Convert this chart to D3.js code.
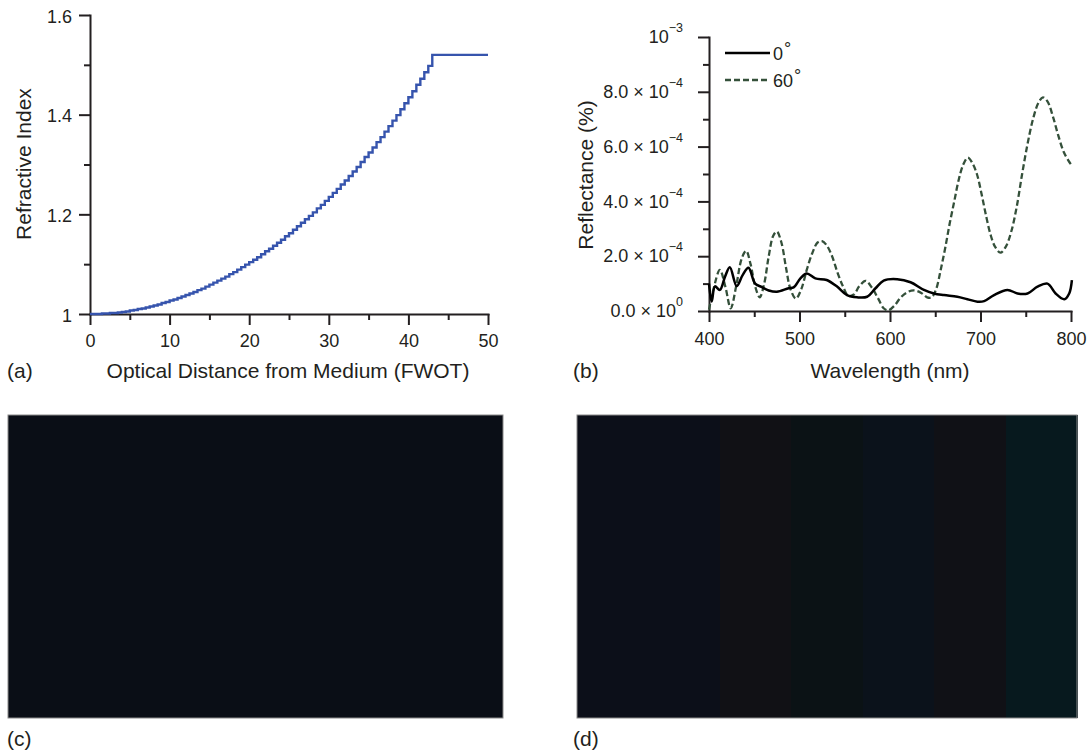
<!DOCTYPE html>
<html><head><meta charset="utf-8">
<script src="https://cdn.jsdelivr.net/npm/d3@7"></script>
<style>
body{margin:0;background:#fff;}
svg text{font-family:"Liberation Sans",Arial,Helvetica,sans-serif;fill:#231f20;}
</style></head><body>
<svg id="chart" width="1087" height="753"></svg>
<script>
// ---------- Panel (a): graded refractive index profile ----------
const layerDistance = [0,0.5,1,1.5,2,2.5,3,3.5,4,4.5,5,5.5,6,6.5,7,7.5,8,8.5,9,9.5,10,10.5,11,11.5,12,12.5,13,13.5,14,14.5,15,15.5,16,16.5,17,17.5,18,18.5,19,19.5,20,20.5,21,21.5,22,22.5,23,23.5,24,24.5,25,25.5,26,26.5,27,27.5,28,28.5,29,29.5,30,30.5,31,31.5,32,32.5,33,33.5,34,34.5,35,35.5,36,36.5,37,37.5,38,38.5,39,39.5,40,40.5,41,41.5,42,42.5,43,50];
const layerIndex = [1.000,1.000,1.000,1.001,1.001,1.002,1.002,1.003,1.004,1.005,1.007,1.008,1.010,1.011,1.013,1.015,1.017,1.019,1.022,1.024,1.027,1.029,1.032,1.035,1.038,1.041,1.044,1.048,1.051,1.055,1.059,1.063,1.067,1.071,1.075,1.080,1.084,1.089,1.094,1.099,1.104,1.109,1.114,1.120,1.126,1.131,1.137,1.143,1.149,1.156,1.162,1.169,1.176,1.183,1.190,1.197,1.204,1.212,1.219,1.227,1.235,1.243,1.251,1.260,1.268,1.277,1.286,1.295,1.305,1.315,1.324,1.334,1.345,1.355,1.366,1.377,1.388,1.399,1.411,1.423,1.435,1.447,1.460,1.472,1.485,1.498,1.520,1.520];
const aXMajor = [0,10,20,30,40,50];
const aXMinor = [5,15,25,35,45];
const aYMajor = [1,1.2,1.4,1.6];
const aYMinor = [1.1,1.3,1.5];

// ---------- Panel (b): reflectance spectra (values in units of 1e-4) ----------
const wl0 = [400,403,406.6,412,417.7,423,430.6,437,443.6,451,458,466,475,488,493.5,501,508,517.5,530,541.5,552.5,563.6,574.7,584,593,608,622.7,637.5,648.6,659.7,674.4,685.5,696.6,704,715,729.8,740.9,752,763,774,783,792.6,798,801];
const refl0 = [1.0,0.35,0.9,0.77,1.25,1.6,0.91,1.3,1.58,1.0,0.88,0.75,0.7,0.83,0.86,1.19,1.37,1.19,1.13,0.89,0.58,0.5,0.52,0.83,1.11,1.16,1.05,0.77,0.64,0.58,0.52,0.43,0.34,0.36,0.58,0.77,0.64,0.64,0.89,1.0,0.64,0.43,0.64,1.13];
const wl60 = [400,405,412,418,424,430,436,441,446,451,456,461,466,471,475,480,485,490,496,502,508,514,520,525,530,536,542,548,554,560,566,573,580,587,593,598,605,612,620,627,635,641,646,651,656,661,666,671,676,681,686,691,696,701,706,711,716,722,728,734,740,746,752,758,764,769,774,780,786,792,797,801];
const refl60 = [0.05,0.8,1.5,0.9,0.1,0.9,1.9,2.2,1.7,0.9,0.5,1.0,2.0,2.75,2.9,2.5,1.6,0.8,0.45,0.8,1.5,2.1,2.5,2.55,2.4,2.0,1.4,0.9,0.55,0.6,0.9,1.1,0.85,0.45,0.1,0.02,0.2,0.5,0.7,0.75,0.65,0.5,0.5,0.8,1.5,2.3,3.2,4.0,4.8,5.35,5.6,5.4,5.0,4.3,3.5,2.8,2.35,2.13,2.35,2.9,3.8,5.0,6.1,7.0,7.6,7.8,7.65,7.1,6.4,5.8,5.5,5.3];
const bXMajor = [400,500,600,700,800];
const bXMinor = [450,550,650,750];
const bYMajor = [0,2,4,6,8,10];
const bYMinor = [1,3,5,7,9];
const bYMantissa = ["0.0","2.0","4.0","6.0","8.0",null];
const bYExponent = ["0","\u22124","\u22124","\u22124","\u22124","\u22123"];
const legendLabels = ["0","60"];

// ---------- Panels (c), (d): colour swatches ----------
const swatchC = ["#0a0e16"];
const swatchD = ["#0c0f19","#0c0f19","#111115","#0b1215","#0b121b","#101116","#07191e"];

const panelLabels = ["(a)","(b)","(c)","(d)"];

const svg = d3.select("#chart");
const ink = "#231f20";

function styleAxis(g){
  g.selectAll("path.domain").attr("stroke", ink).attr("stroke-width", 2).attr("stroke-linecap","square");
  g.selectAll(".tick line").attr("stroke", ink).attr("stroke-width", 2);
  g.selectAll(".tick text").attr("font-size", 18).attr("fill", ink)
    .style("font-family", '"Liberation Sans",Arial,sans-serif');
}
function minorAxis(g){
  g.select("path.domain").remove();
  g.selectAll(".tick line").attr("stroke", ink).attr("stroke-width", 2);
}

// ===== Panel (a) =====
const xa = d3.scaleLinear().domain([0,50]).range([90,488]);
const ya = d3.scaleLinear().domain([1,1.6]).range([314,15]);

svg.append("g").attr("transform","translate(0,314)")
  .call(d3.axisBottom(xa).tickValues(aXMinor).tickSize(6).tickFormat("")).call(minorAxis);
svg.append("g").attr("transform","translate(90,0)")
  .call(d3.axisLeft(ya).tickValues(aYMinor).tickSize(6).tickFormat("")).call(minorAxis);
svg.append("g").attr("transform","translate(0,314)")
  .call(d3.axisBottom(xa).tickValues(aXMajor).tickSize(11).tickSizeOuter(0).tickPadding(9).tickFormat(d3.format("d")))
  .call(styleAxis);
svg.append("g").attr("transform","translate(90,0)")
  .call(d3.axisLeft(ya).tickValues(aYMajor).tickSize(11).tickSizeOuter(0).tickPadding(7)
    .tickFormat(d => d === 1 ? "1" : d3.format(".1f")(d)))
  .call(styleAxis)
  .call(g => g.selectAll(".tick text").attr("dy","0.4em"));

const lineA = d3.line().x((d,i)=>xa(layerDistance[i])).y(d=>ya(d)).curve(d3.curveStepAfter);
svg.append("path").datum(layerIndex).attr("d", lineA)
  .attr("fill","none").attr("stroke","#3654ad").attr("stroke-width",2.4);

svg.append("text").attr("x",288).attr("y",378).attr("text-anchor","middle").attr("font-size",21)
  .text("Optical Distance from Medium (FWOT)");
svg.append("text").attr("transform","translate(31,164) rotate(-90)").attr("text-anchor","middle").attr("font-size",21)
  .text("Refractive Index");

// ===== Panel (b) =====
const xb = d3.scaleLinear().domain([400,800]).range([709,1071]);
const yb = d3.scaleLinear().domain([0,10]).range([311,37]);

svg.append("g").attr("transform","translate(0,311)")
  .call(d3.axisBottom(xb).tickValues(bXMinor).tickSize(6).tickFormat("")).call(minorAxis);
svg.append("g").attr("transform","translate(709,0)")
  .call(d3.axisLeft(yb).tickValues(bYMinor).tickSize(6).tickFormat("")).call(minorAxis);
svg.append("g").attr("transform","translate(0,311)")
  .call(d3.axisBottom(xb).tickValues(bXMajor).tickSize(11).tickSizeOuter(0).tickPadding(10).tickFormat(d3.format("d")))
  .call(styleAxis);
const yAxisB = svg.append("g").attr("transform","translate(709,0)")
  .call(d3.axisLeft(yb).tickValues(bYMajor).tickSize(11).tickSizeOuter(0).tickPadding(15).tickFormat(""))
  .call(styleAxis);
yAxisB.selectAll(".tick text").each(function(d,i){
  const t = d3.select(this);
  t.text(null).attr("dy","0.32em");
  const m = bYMantissa[i];
  t.append("tspan").text(m === null ? "10" : m + " \u00d7 10");
  t.append("tspan").attr("dy",-11).attr("font-size",12.5).text(bYExponent[i]);
});

const lineB = (xs) => d3.line().x((d,i)=>xb(xs[i])).y(d=>yb(d)).curve(d3.curveCatmullRom.alpha(0.5));
svg.append("path").datum(refl60).attr("d", lineB(wl60))
  .attr("fill","none").attr("stroke","#34503a").attr("stroke-width",2.3).attr("stroke-dasharray","6,3");
svg.append("path").datum(refl0).attr("d", lineB(wl0))
  .attr("fill","none").attr("stroke","#000").attr("stroke-width",2.5);

// legend
const legend = svg.append("g");
const legendStyles = [{stroke:"#000",dash:null,w:2.5},{stroke:"#34503a",dash:"6,3",w:2.3}];
legendLabels.forEach((lab,i)=>{
  const yy = 53 + i*27;
  legend.append("line").attr("x1",725).attr("x2",770).attr("y1",yy).attr("y2",yy)
    .attr("stroke",legendStyles[i].stroke).attr("stroke-width",legendStyles[i].w)
    .attr("stroke-dasharray",legendStyles[i].dash);
  const t = legend.append("text").attr("x",773).attr("y",yy+7).attr("font-size",18);
  t.append("tspan").text(lab);
  t.append("tspan").attr("dy",-5).attr("dx",1).text("\u00b0");
});

svg.append("text").attr("x",890).attr("y",378).attr("text-anchor","middle").attr("font-size",21)
  .text("Wavelength (nm)");
svg.append("text").attr("transform","translate(593,175) rotate(-90)").attr("text-anchor","middle").attr("font-size",21)
  .text("Reflectance (%)");

// ===== Panels (c), (d) =====
svg.append("g").selectAll("rect").data(swatchC).join("rect")
  .attr("x",8).attr("y",415).attr("width",495).attr("height",303).attr("fill",d=>d)
  .attr("shape-rendering","crispEdges");
const xd = d3.scaleBand().domain(d3.range(swatchD.length)).range([577,1077]);
svg.append("g").selectAll("rect").data(swatchD).join("rect")
  .attr("x",(d,i)=>xd(i)).attr("y",415).attr("width",xd.bandwidth()+1).attr("height",303).attr("fill",d=>d)
  .attr("shape-rendering","crispEdges");
svg.append("rect").attr("x",8).attr("y",415).attr("width",495).attr("height",303)
  .attr("fill","none").attr("stroke","#8a8a8a").attr("stroke-width",1);
svg.append("rect").attr("x",577).attr("y",415).attr("width",500).attr("height",303)
  .attr("fill","none").attr("stroke","#8a8a8a").attr("stroke-width",1);

// panel letters
const labelPos = [[7,378],[573,378],[7,746],[573,746]];
panelLabels.forEach((l,i)=>{
  svg.append("text").attr("x",labelPos[i][0]).attr("y",labelPos[i][1]).attr("font-size",21).text(l);
});
</script></body></html>
